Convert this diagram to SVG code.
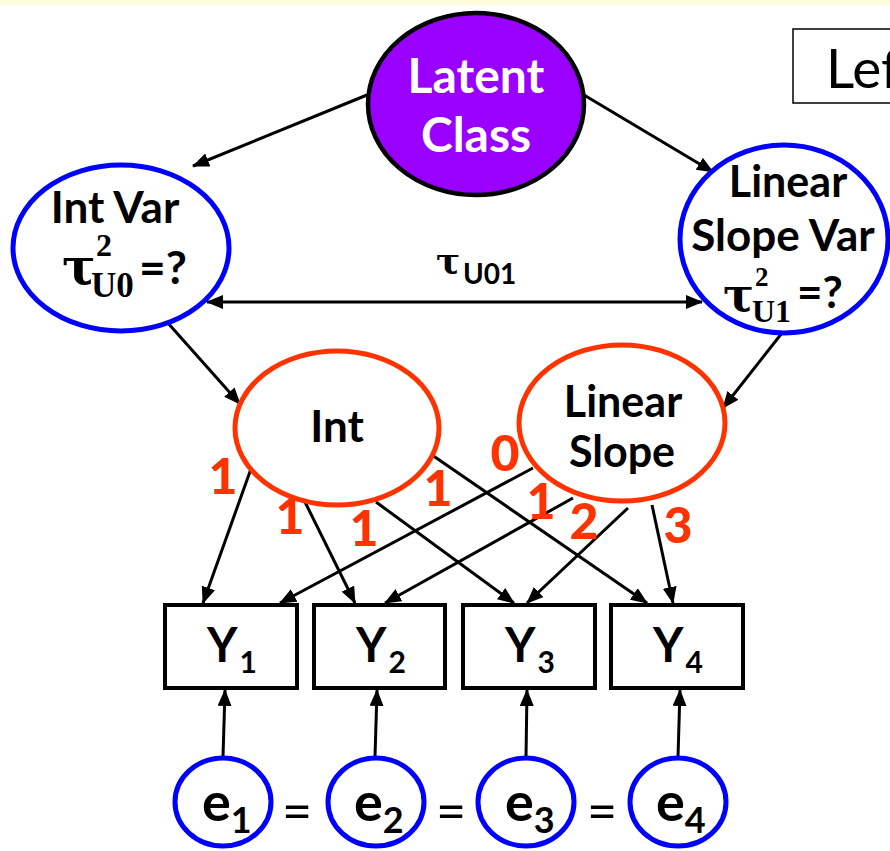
<svg xmlns="http://www.w3.org/2000/svg" width="890" height="851" viewBox="0 0 890 851">
  <defs>
    <marker id="arrow" viewBox="0 0 17 14" refX="16" refY="7" markerWidth="17" markerHeight="14" markerUnits="userSpaceOnUse" orient="auto-start-reverse">
      <path d="M0,0 L17,7 L0,14 z" fill="#000"/>
    </marker>
    <style>
      .lbl { font-family: Lato, "Open Sans", sans-serif; font-weight: bold; fill: #000; }
      .mid { text-anchor: middle; }
      .math { font-family: "DejaVu Serif", serif; font-weight: bold; fill: #000; }
      .mathsub { font-family: "Liberation Serif", serif; font-weight: bold; fill: #000; }
      .load { font-family: Lato, sans-serif; font-weight: 900; fill: #ff3300; font-size: 50px; text-anchor: middle; }
      .var { fill: #fff; stroke: #0000ff; stroke-width: 5; }
      .growth { fill: #fff; stroke: #ff3300; stroke-width: 5; }
      .obs { fill: #fff; stroke: #000; stroke-width: 4; }
      .err { fill: #fff; stroke: #0000ff; stroke-width: 5; }
      .eq { font-family: Lato, sans-serif; font-weight: normal; fill: #000; font-size: 52px; text-anchor: middle; }
      .conn line { stroke: #000; stroke-width: 3; marker-end: url(#arrow); }
    </style>
  </defs>

  <rect x="0" y="0" width="890" height="851" fill="#fff"/>
  <rect x="0" y="0" width="890" height="5" fill="#fffbd8"/>

  <!-- legend box, cut by the right edge -->
  <g id="legend">
    <rect x="793" y="29" width="110" height="74" fill="#fff" stroke="#000" stroke-width="1.5"/>
    <text x="826" y="88" font-family="Lato, sans-serif" font-size="55" fill="#000">Lef</text>
  </g>

  <!-- connectors -->
  <g id="connectors" class="conn">
    <line x1="367" y1="95" x2="193" y2="166"/>
    <line x1="584" y1="95" x2="713" y2="172"/>
    <line x1="207" y1="302" x2="702" y2="302" marker-start="url(#arrow)"/>
    <line x1="167" y1="322" x2="240" y2="404"/>
    <line x1="782" y1="333" x2="723" y2="408"/>
    <line x1="252" y1="466" x2="203" y2="603"/>
    <line x1="304" y1="500" x2="355" y2="603"/>
    <line x1="376" y1="502" x2="514" y2="603"/>
    <line x1="432" y1="455" x2="647" y2="603"/>
    <line x1="533" y1="468" x2="280" y2="603"/>
    <line x1="573" y1="498" x2="385" y2="603"/>
    <line x1="628" y1="508" x2="527" y2="603"/>
    <line x1="652" y1="505" x2="673" y2="603"/>
    <line x1="223" y1="757" x2="225" y2="690"/>
    <line x1="375" y1="757" x2="377" y2="690"/>
    <line x1="526" y1="757" x2="527" y2="690"/>
    <line x1="678" y1="757" x2="680" y2="690"/>
  </g>

  <!-- covariance label -->
  <g id="cov-label">
    <text x="436" y="273" class="math" font-size="36">τ</text>
    <text x="463" y="284" class="lbl" font-size="28">U01</text>
  </g>

  <g id="latent-class">
    <ellipse cx="476" cy="104" rx="108" ry="91" fill="#9900ff" stroke="#000" stroke-width="4.5"/>
    <text x="476" y="93" class="lbl mid" font-size="48" style="fill:#fff">Latent</text>
    <text x="476" y="152" class="lbl mid" font-size="48" style="fill:#fff">Class</text>
  </g>

  <g id="int-var">
    <ellipse cx="121" cy="248" rx="108" ry="83" class="var"/>
    <text x="115" y="223" class="lbl mid" font-size="44">Int Var</text>
    <text x="62" y="284" class="math" font-size="50">τ</text>
    <text x="96" y="256" class="mathsub" font-size="32">2</text>
    <text x="91" y="297" class="mathsub" font-size="35">U0</text>
    <text x="139" y="284" class="lbl" font-size="46">=?</text>
  </g>

  <g id="slope-var">
    <ellipse cx="784" cy="239" rx="104" ry="94" class="var"/>
    <text x="788" y="197" class="lbl mid" font-size="43">Linear</text>
    <text x="783" y="251" class="lbl mid" font-size="44">Slope Var</text>
    <text x="723" y="311" class="math" font-size="46">τ</text>
    <text x="755" y="286" class="mathsub" font-size="27">2</text>
    <text x="752" y="322" class="mathsub" font-size="32">U1</text>
    <text x="797" y="308" class="lbl" font-size="44">=?</text>
  </g>

  <g id="intercept">
    <ellipse cx="337" cy="428" rx="102" ry="77" class="growth"/>
    <text x="337" y="442" class="lbl mid" font-size="44">Int</text>
  </g>

  <g id="slope">
    <ellipse cx="622" cy="423" rx="103" ry="78" class="growth"/>
    <text x="623" y="417" class="lbl mid" font-size="43">Linear</text>
    <text x="622" y="467" class="lbl mid" font-size="43">Slope</text>
  </g>

  <!-- loadings -->
  <g id="loadings">
    <text x="223" y="494" class="load">1</text>
    <text x="290" y="534" class="load">1</text>
    <text x="364" y="546" class="load">1</text>
    <text x="438" y="506" class="load">1</text>
    <text x="505" y="471" class="load">0</text>
    <text x="541" y="519" class="load">1</text>
    <text x="584" y="539" class="load">2</text>
    <text x="678" y="543" class="load">3</text>
  </g>

  <g id="y1">
    <rect x="165" y="605" width="132" height="83" class="obs"/>
    <text x="207" y="662" class="lbl" font-size="47">Y<tspan dx="2" dy="11" font-size="30">1</tspan></text>
  </g>
  <g id="y2">
    <rect x="314" y="605" width="131" height="83" class="obs"/>
    <text x="356" y="662" class="lbl" font-size="47">Y<tspan dx="2" dy="11" font-size="30">2</tspan></text>
  </g>
  <g id="y3">
    <rect x="463" y="605" width="132" height="83" class="obs"/>
    <text x="505" y="662" class="lbl" font-size="47">Y<tspan dx="2" dy="11" font-size="30">3</tspan></text>
  </g>
  <g id="y4">
    <rect x="611" y="605" width="132" height="83" class="obs"/>
    <text x="653" y="662" class="lbl" font-size="47">Y<tspan dx="2" dy="11" font-size="30">4</tspan></text>
  </g>

  <g id="e1">
    <ellipse cx="223" cy="802" rx="48" ry="44" class="err"/>
    <text x="202" y="821" class="lbl" font-size="54">e<tspan dy="12" font-size="36">1</tspan></text>
  </g>
  <g id="e2">
    <ellipse cx="376" cy="802" rx="48" ry="44" class="err"/>
    <text x="354" y="821" class="lbl" font-size="54">e<tspan dy="12" font-size="36">2</tspan></text>
  </g>
  <g id="e3">
    <ellipse cx="526" cy="802" rx="48" ry="44" class="err"/>
    <text x="505" y="821" class="lbl" font-size="54">e<tspan dy="12" font-size="36">3</tspan></text>
  </g>
  <g id="e4">
    <ellipse cx="678" cy="802" rx="48" ry="44" class="err"/>
    <text x="656" y="821" class="lbl" font-size="54">e<tspan dy="12" font-size="36">4</tspan></text>
  </g>

  <!-- equality constraints between residuals -->
  <g id="equalities">
    <text x="297" y="830" class="eq">=</text>
    <text x="451" y="830" class="eq">=</text>
    <text x="602" y="830" class="eq">=</text>
  </g>
</svg>
